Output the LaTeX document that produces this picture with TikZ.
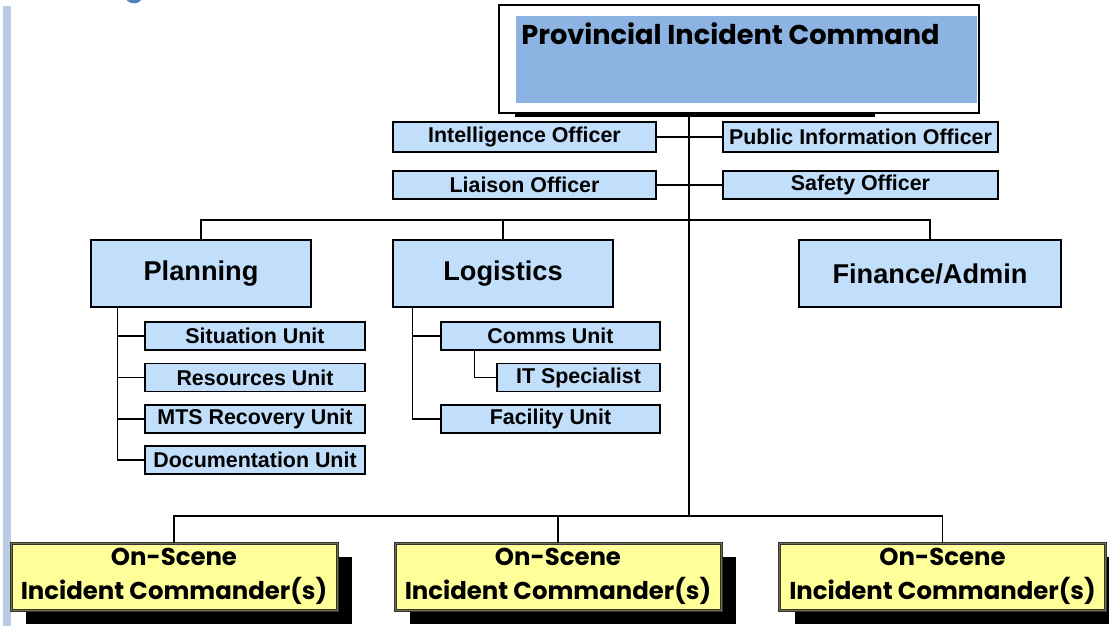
\documentclass[tikz,border=0pt]{standalone}
\usepackage{fontspec}
\setmainfont{Liberation Sans}
\newfontfamily\gothic{Poppins}
\usetikzlibrary{shadows}

\begin{document}
\begin{tikzpicture}[x=0.5pt, y=-0.5pt,
    officer/.style={draw, line width=0.75pt, fill=boxblue, inner sep=0pt,
      minimum height=15pt, font=\bfseries\fontsize{10.7}{12}\selectfont},
    unit/.style={officer, minimum height=14pt, minimum width=110pt},
    section/.style={draw, line width=0.75pt, fill=boxblue, inner sep=0pt,
      minimum height=33.5pt, font=\bfseries\fontsize{13.6}{16}\selectfont},
    oscbox/.style={draw=black!80, line width=0.5pt, double=oscyellow!45!black,
      double distance=0.5pt, fill=oscyellow, inner sep=0pt, align=center,
      minimum width=163pt, minimum height=33.5pt,
      font=\gothic\bfseries\fontsize{12.2}{17}\selectfont,
      drop shadow={shadow xshift=7.5pt, shadow yshift=-7pt, fill=black, opacity=1}},
    link/.style={line width=0.7pt}]
        % Colori
        \definecolor{boxblue}{RGB}{193,222,250}
        \definecolor{topblue}{RGB}{141,179,226}
        \definecolor{oscyellow}{RGB}{255,255,153}
        \definecolor{barblue}{RGB}{184,204,228}
        \definecolor{headblue}{RGB}{79,129,189}
        \useasboundingbox (0,0) rectangle (1109,626);

        % Barra laterale e titolo tagliato
        \fill[barblue] (3,6) rectangle (11,626);
        \node (headg) at (135,4) [anchor=south, inner sep=0pt, color=headblue,
          font=\gothic\bfseries\fontsize{15}{18}\selectfont] {g};

        % Comando provinciale
        \fill (515,113) rectangle (875,117);
        \node (pic) at (739,59) [draw, line width=0.75pt, fill=white, inner sep=0pt,
          minimum width=240pt, minimum height=54pt] {};
        \fill[topblue] (516,16) rectangle (977,103);
        \node (pictitle) at (521,45) [anchor=base west, inner sep=0pt,
          font=\gothic\bfseries\fontsize{13.6}{16}\selectfont] {Provincial Incident Command};

        % Ufficiali
        \node (intel) at (524.5,137) [officer, minimum width=131.5pt] {Intelligence Officer};
        \node (pio) at (860.5,137) [officer, minimum width=137.5pt] {Public Information Officer};
        \node (liaison) at (524.5,185) [officer, minimum width=131.5pt, minimum height=14pt] {Liaison Officer};
        \node (safety) at (860.5,185) [officer, minimum width=137.5pt, minimum height=14pt] {Safety Officer};

        % Sezioni
        \node (plan) at (201,273.5) [section, minimum width=110pt] {Planning};
        \node (log) at (503,273.5) [section, minimum width=110pt] {Logistics};
        \node (fin) at (930,273.5) [section, minimum width=131pt] {Finance/Admin};

        % Unita
        \node (sit) at (255,336) [unit] {Situation Unit};
        \node (res) at (255,377.5) [unit] {Resources Unit};
        \node (mts) at (255,419) [unit] {MTS Recovery Unit};
        \node (doc) at (255,460) [unit] {Documentation Unit};
        \node (comms) at (550.5,336) [unit, minimum width=109.5pt] {Comms Unit};
        \node (it) at (578.5,377.5) [unit, minimum width=81.5pt] {IT Specialist};
        \node (fac) at (550.5,419) [unit, minimum width=109.5pt] {Facility Unit};

        % Comandanti sul posto
        \node (osc1) at (174,576.5) [oscbox] {On-Scene\\Incident Commander(s)};
        \node (osc2) at (558,576.5) [oscbox] {On-Scene\\Incident Commander(s)};
        \node (osc3) at (942.5,576.5) [oscbox] {On-Scene\\Incident Commander(s)};

        % Collegamenti
        \coordinate (topbus) at (689,220);
        \coordinate (bus) at (689,516);
        \draw[link] (pic.south -| bus) -- (bus);
        \draw[link] (intel.east) -- (pio.west);
        \draw[link] (liaison.east) -- (safety.west);
        \draw[link] (plan.north) |- (fin.north |- topbus) -- (fin.north);
        \draw[link] (log.north) -- (log.north |- topbus);
        \foreach \u in {sit,res,mts,doc}
          \draw[link] ([xshift=13.5pt]plan.south west) |- (\u.west);
        \foreach \u in {comms,fac}
          \draw[link] ([xshift=10pt]log.south west) |- (\u.west);
        \draw[link] ([xshift=17pt]comms.south west) |- (it.west);
        \draw[link] (osc1.north) |- (osc3.north |- bus) -- (osc3.north);
        \draw[link] (osc2.north) -- (osc2.north |- bus);
    \end{tikzpicture}
\end{document}
